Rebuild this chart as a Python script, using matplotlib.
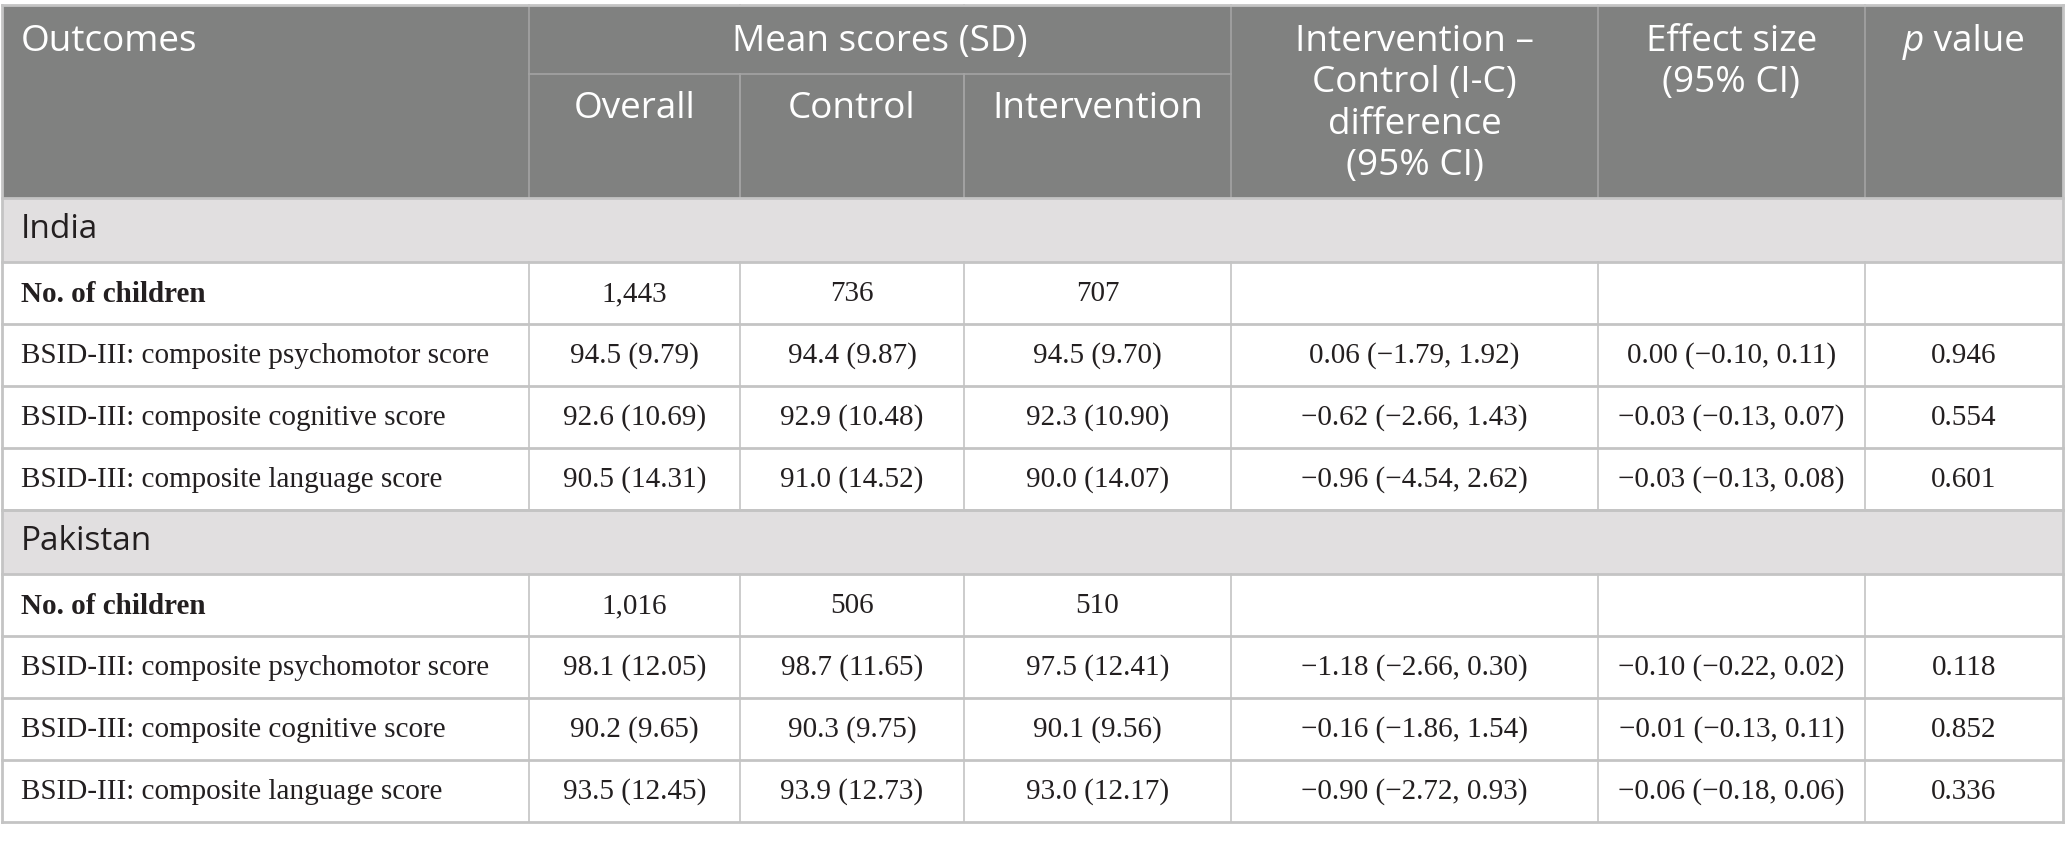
import matplotlib
matplotlib.use("Agg")
import matplotlib.pyplot as plt
from matplotlib.patches import Rectangle

# ---------------- data ----------------
sections = ["India", "Pakistan"]
outcome_labels = ["BSID-III: composite psychomotor score",
                  "BSID-III: composite cognitive score",
                  "BSID-III: composite language score"]
n_label = "No. of children"

n_children = {"India": [1443, 736, 707], "Pakistan": [1016, 506, 510]}

overall_mean = {"India": [94.5, 92.6, 90.5], "Pakistan": [98.1, 90.2, 93.5]}
overall_sd = {"India": [9.79, 10.69, 14.31], "Pakistan": [12.05, 9.65, 12.45]}
control_mean = {"India": [94.4, 92.9, 91.0], "Pakistan": [98.7, 90.3, 93.9]}
control_sd = {"India": [9.87, 10.48, 14.52], "Pakistan": [11.65, 9.75, 12.73]}
interv_mean = {"India": [94.5, 92.3, 90.0], "Pakistan": [97.5, 90.1, 93.0]}
interv_sd = {"India": [9.70, 10.90, 14.07], "Pakistan": [12.41, 9.56, 12.17]}

diff = {"India": [0.06, -0.62, -0.96], "Pakistan": [-1.18, -0.16, -0.90]}
diff_lo = {"India": [-1.79, -2.66, -4.54], "Pakistan": [-2.66, -1.86, -2.72]}
diff_hi = {"India": [1.92, 1.43, 2.62], "Pakistan": [0.30, 1.54, 0.93]}

es = {"India": [0.00, -0.03, -0.03], "Pakistan": [-0.10, -0.01, -0.06]}
es_lo = {"India": [-0.10, -0.13, -0.13], "Pakistan": [-0.22, -0.13, -0.18]}
es_hi = {"India": [0.11, 0.07, 0.08], "Pakistan": [0.02, 0.11, 0.06]}

p_values = {"India": [0.946, 0.554, 0.601], "Pakistan": [0.118, 0.852, 0.336]}

header_outcomes = "Outcomes"
header_mean = "Mean scores (SD)"
header_diff = ["Intervention –", "Control (I-C)", "difference", "(95% CI)"]
header_es = ["Effect size", "(95% CI)"]
header_sub = ["Overall", "Control", "Intervention"]

# ---------------- formatting helpers ----------------
def fnum(v, d):
    s = f"{abs(v):.{d}f}"
    return ("\u2212" + s) if v < 0 else s

def msd(m, s):
    return f"{m:.1f} ({s:.2f})"

def ci(v, lo, hi):
    return f"{fnum(v, 2)} ({fnum(lo, 2)}, {fnum(hi, 2)})"

# ---------------- layout ----------------
W, H = 2065, 842
fig = plt.figure(figsize=(W / 100, H / 100), dpi=100)
ax = fig.add_axes([0, 0, 1, 1])
ax.set_xlim(0, W)
ax.set_ylim(H, 0)
ax.axis("off")

xs = [2, 529, 740, 964, 1231, 1598, 1865, 2063]
y_top, y_sub, y_head = 5, 74, 198
row_h = 62
band_h = 64
line_y = [42, 83.5, 125, 166]

HEAD_BG = "#808180"
BAND_BG = "#e1dfe0"
LINE = "#c4c4c4"
HEAD_LINE = "#a3a3a3"
TXT = "#231f20"

SANS = ["Open Sans", "DejaVu Sans"]
SERIF = ["Liberation Serif", "DejaVu Serif"]
HFS = 26.6
SFS = 24
BFS = 21

# header background
ax.add_patch(Rectangle((xs[0], y_top), xs[-1] - xs[0], y_head - y_top,
                       facecolor=HEAD_BG, edgecolor="none", zorder=0))
for x in xs[1:-1]:
    ax.plot([x, x], [y_top, y_head], color=HEAD_LINE, lw=1.2, zorder=1)
ax.add_patch(Rectangle((xs[1] + 1, y_top + 1), xs[4] - xs[1] - 2, y_sub - y_top - 2,
                       facecolor=HEAD_BG, edgecolor="none", zorder=1.5))
ax.plot([xs[1], xs[4]], [y_sub, y_sub], color=HEAD_LINE, lw=1.2, zorder=2)
for x in (xs[2], xs[3]):
    ax.plot([x, x], [y_sub, y_head], color=HEAD_LINE, lw=1.2, zorder=2)

def htext(x, y, s, ha="center", **kw):
    return ax.text(x, y, s, ha=ha, va="center", color="white", fontsize=HFS,
                   family=SANS, zorder=5, **kw)

htext(21, line_y[0], header_outcomes, ha="left")
htext((xs[1] + xs[4]) / 2, line_y[0], header_mean)
for i, s in enumerate(header_diff):
    htext((xs[4] + xs[5]) / 2, line_y[i], s)
for i, s in enumerate(header_es):
    htext((xs[5] + xs[6]) / 2, line_y[i], s)
for i, s in enumerate(header_sub):
    htext((xs[1 + i] + xs[2 + i]) / 2, 109, s)

# p value header (italic p)
fig.canvas.draw()
rend = fig.canvas.get_renderer()
tp = htext(0, line_y[0], "p", ha="left", style="italic")
tv = htext(0, line_y[0], " value", ha="left")
wp = tp.get_window_extent(rend).width
wv = tv.get_window_extent(rend).width
cx = (xs[6] + xs[7]) / 2
x0 = cx - (wp + wv) / 2
tp.set_x(x0)
tv.set_x(x0 + wp)

# body
y = y_head
for sec in sections:
    ax.add_patch(Rectangle((xs[0], y), xs[-1] - xs[0], band_h,
                           facecolor=BAND_BG, edgecolor="none", zorder=0))
    ax.text(21, y + band_h / 2, sec, ha="left", va="center", color=TXT,
            fontsize=SFS, family=SANS, zorder=5)
    ax.plot([xs[0], xs[-1]], [y, y], color=LINE, lw=2, zorder=3)
    y += band_h
    ax.plot([xs[0], xs[-1]], [y, y], color=LINE, lw=2, zorder=3)
    rows = [[n_label, f"{n_children[sec][0]:,}", f"{n_children[sec][1]:,}",
             f"{n_children[sec][2]:,}", "", "", ""]]
    for k in range(3):
        rows.append([outcome_labels[k],
                     msd(overall_mean[sec][k], overall_sd[sec][k]),
                     msd(control_mean[sec][k], control_sd[sec][k]),
                     msd(interv_mean[sec][k], interv_sd[sec][k]),
                     ci(diff[sec][k], diff_lo[sec][k], diff_hi[sec][k]),
                     ci(es[sec][k], es_lo[sec][k], es_hi[sec][k]),
                     f"{p_values[sec][k]:.3f}"])
    for r, row in enumerate(rows):
        yc = y + row_h / 2 + 1
        for c, s in enumerate(row):
            if c == 0:
                ax.text(21, yc, s, ha="left", va="center", color=TXT, fontsize=BFS,
                        family=SERIF, weight="bold" if r == 0 else "normal", zorder=5)
            else:
                ax.text((xs[c] + xs[c + 1]) / 2, yc, s, ha="center", va="center",
                        color=TXT, fontsize=BFS, family=SERIF, zorder=5)
        for x in xs[1:-1]:
            ax.plot([x, x], [y, y + row_h], color=LINE, lw=1.2, zorder=3)
        y += row_h
        ax.plot([xs[0], xs[-1]], [y, y], color=LINE, lw=2, zorder=3)

# outer border
ax.plot([xs[0], xs[0]], [y_top, y], color=LINE, lw=2, zorder=4)
ax.plot([xs[-1], xs[-1]], [y_top, y], color=LINE, lw=2, zorder=4)
ax.plot([xs[0], xs[-1]], [y_top, y_top], color=LINE, lw=2, zorder=4)

fig.savefig("out.png", dpi=100, facecolor="white")
